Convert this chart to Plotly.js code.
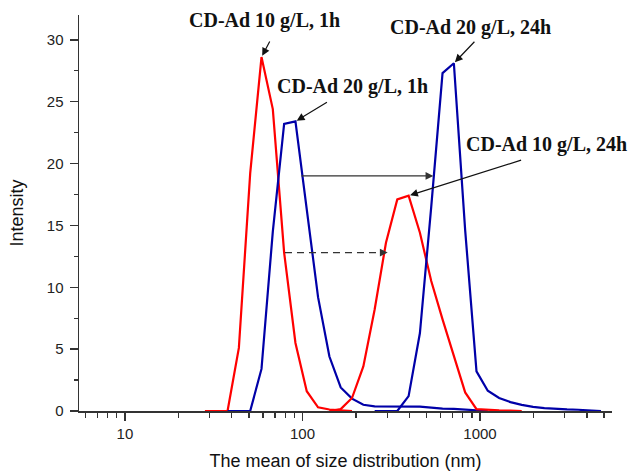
<!DOCTYPE html>
<html>
<head>
<meta charset="utf-8">
<script src="https://cdn.plot.ly/plotly-3.0.1.min.js"></script>
<style>html,body{margin:0;padding:0;background:#fff}#chart{width:629px;height:472px}</style>
</head>
<body>
<div id="chart"></div>
<script>
// ---- data (size bins in nm, intensity in %) ----
const red1Sizes = [28.21, 32.67, 37.84, 43.82, 50.75, 58.77, 68.06, 78.82, 91.28, 105.7, 122.4, 141.8, 164.2, 190.1];
const red1Int   = [0, 0, 0, 5.1, 19.2, 28.6, 24.4, 12.8, 5.5, 1.6, 0.3, 0.12, 0.08, 0];

const blue1Sizes = [37.84, 43.82, 50.75, 58.77, 68.06, 78.82, 91.28, 105.7, 122.4, 141.8, 164.2, 190.1, 220.2, 255.0, 295.3, 342.0, 396.1, 458.7, 531.2, 615.1, 712.4, 825.0, 955.4, 1106];
const blue1Int   = [0, 0, 0, 3.4, 14.5, 23.2, 23.4, 16.3, 9.2, 4.4, 1.9, 1.0, 0.5, 0.38, 0.38, 0.38, 0.37, 0.36, 0.28, 0.19, 0.17, 0.1, 0.04, 0];

const red2Sizes = [141.8, 164.2, 190.1, 220.2, 255.0, 295.3, 342.0, 396.1, 458.7, 531.2, 615.1, 712.4, 825.0, 955.4, 1106, 1281, 1484, 1718];
const red2Int   = [0, 0.15, 1.05, 3.6, 8.2, 13.6, 17.1, 17.4, 14.4, 10.5, 7.4, 4.4, 1.5, 0.15, 0.08, 0.05, 0.03, 0];

const blue2Sizes = [255.0, 295.3, 342.0, 396.1, 458.7, 531.2, 615.1, 712.4, 825.0, 955.4, 1106, 1281, 1484, 1718, 1990, 2305, 2669, 3091, 3580, 4145, 4801];
const blue2Int   = [0, 0, 0, 1.2, 6.3, 16.5, 27.3, 28.1, 14.6, 3.2, 1.64, 1.05, 0.72, 0.5, 0.33, 0.24, 0.16, 0.13, 0.1, 0.06, 0];

const seriesNames = ["CD-Ad 10 g/L, 1h", "CD-Ad 20 g/L, 1h", "CD-Ad 10 g/L, 24h", "CD-Ad 20 g/L, 24h"];

const xTickVals = [10, 100, 1000];
const xTickText = ["10", "100", "1000"];
const xMinorVals = [6, 7, 8, 9, 20, 30, 40, 50, 60, 70, 80, 90, 200, 300, 400, 500, 600, 700, 800, 900, 2000, 3000, 4000, 5000];
const yTickVals = [0, 5, 10, 15, 20, 25, 30];

// shift arrows between peaks (nm from -> nm to, at intensity level)
const solidShift  = {from: 96.8, to: 546, level: 19.0};
const dashedShift = {from: 79.7, to: 302, level: 12.8};

// ---- layout constants ----
const M = {l: 79, r: 17, t: 15, b: 61};
const W = 629, H = 472;
const PW = W - M.l - M.r, PH = H - M.t - M.b;
const XR = [Math.log10(5.51), Math.log10(5540)];
const px2paperX = px => (px - M.l) / PW;
const px2paperY = py => (H - M.b - py) / PH;
const nm2paperX = v => (Math.log10(v) - XR[0]) / (XR[1] - XR[0]);

const RED = "#ff0000", BLUE = "#0000a8", INK = "#111111", AXIS = "#333333";

function peak(xs, ys) {
  let k = 0; ys.forEach((v, i) => { if (v > ys[k]) k = i; });
  return {x: xs[k], y: ys[k]};
}

const traces = [
  {x: red1Sizes, y: red1Int, name: seriesNames[0], color: RED},
  {x: blue1Sizes, y: blue1Int, name: seriesNames[1], color: BLUE},
  {x: red2Sizes, y: red2Int, name: seriesNames[2], color: RED},
  {x: blue2Sizes, y: blue2Int, name: seriesNames[3], color: BLUE}
].map(s => ({
  type: "scatter", mode: "lines", x: s.x, y: s.y, name: s.name,
  line: {color: s.color, width: 2.2}, showlegend: false, hoverinfo: "x+y+name"
}));

const labelFont = {family: "Liberation Serif, Times New Roman, serif", size: 20, color: INK, weight: "bold"};

// label text positions (pixel centres) and arrow tails (pixel offsets from peak)
const labels = [
  {text: seriesNames[0], cx: 264, cy: 21,  pk: peak(red1Sizes, red1Int),   ax: 9,   ay: -17},
  {text: seriesNames[1], cx: 352, cy: 86.5, pk: peak(blue1Sizes, blue1Int), ax: 33,  ay: -20},
  {text: seriesNames[3], cx: 470, cy: 27.5, pk: peak(blue2Sizes, blue2Int), ax: 22,  ay: -23},
  {text: seriesNames[2], cx: 546, cy: 144, pk: peak(red2Sizes, red2Int),   ax: 114, ay: -36}
];

const annotations = [];
labels.forEach(L => {
  annotations.push({
    xref: "paper", yref: "paper", x: px2paperX(L.cx), y: px2paperY(L.cy),
    xanchor: "center", yanchor: "middle", text: L.text, showarrow: false, font: labelFont
  });
  annotations.push({
    xref: "x", yref: "y", x: Math.log10(L.pk.x), y: L.pk.y, text: "",
    showarrow: true, ax: L.ax, ay: L.ay, arrowhead: 2, arrowsize: 1.3, arrowwidth: 1.2,
    arrowcolor: INK, standoff: 1.5
  });
});

// solid shift arrow
annotations.push({
  xref: "x", yref: "y", x: Math.log10(solidShift.to), y: solidShift.level,
  axref: "x", ayref: "y", ax: Math.log10(solidShift.from), ay: solidShift.level,
  text: "", showarrow: true, arrowhead: 2, arrowsize: 1.3, arrowwidth: 1.2, arrowcolor: "#333"
});
// dashed shift arrow head
annotations.push({
  xref: "x", yref: "y", x: Math.log10(dashedShift.to), y: dashedShift.level,
  ax: -9, ay: 0, text: "", showarrow: true, arrowhead: 2, arrowsize: 1.3, arrowwidth: 1.2, arrowcolor: "#333"
});

const shapes = [{
  type: "line", xref: "paper", yref: "y",
  x0: nm2paperX(dashedShift.from), x1: nm2paperX(dashedShift.to) - 8 / PW,
  y0: dashedShift.level, y1: dashedShift.level,
  line: {color: "#333", width: 1.3, dash: "7px,5px"}, layer: "above"
}];

const tickFont = {family: "Liberation Sans, Arial, Helvetica, sans-serif", size: 15, color: "#222"};
const titleFont = {family: "Liberation Sans, Arial, Helvetica, sans-serif", size: 18, color: "#111"};

const layout = {
  width: W, height: H, margin: M,
  paper_bgcolor: "#fff", plot_bgcolor: "#fff",
  xaxis: {
    type: "log", range: XR,
    tickmode: "array", tickvals: xTickVals, ticktext: xTickText,
    ticks: "outside", ticklen: 8, tickwidth: 1.5, tickcolor: AXIS,
    minor: {tickmode: "array", tickvals: xMinorVals, ticks: "outside", ticklen: 5, tickwidth: 1.3, tickcolor: AXIS, showgrid: false},
    showline: true, linecolor: AXIS, linewidth: 1.5, showgrid: false, zeroline: false,
    tickfont: tickFont, layer: "below traces",
    title: {text: "The mean of size distribution (nm)", font: titleFont, standoff: 14}
  },
  yaxis: {
    range: [0, 32], tickmode: "array", tickvals: yTickVals,
    ticks: "outside", ticklen: 8, tickwidth: 1.5, tickcolor: AXIS,
    minor: {dtick: 2.5, ticks: "outside", ticklen: 4, tickwidth: 1.3, tickcolor: AXIS, showgrid: false},
    showline: true, linecolor: AXIS, linewidth: 1.5, showgrid: false, zeroline: false,
    tickfont: tickFont, layer: "below traces", ticklabelstandoff: 3,
    title: {text: "Intensity", font: titleFont, standoff: 18}
  },
  annotations: annotations,
  shapes: shapes,
  showlegend: false
};

Plotly.newPlot("chart", traces, layout, {displayModeBar: false, staticPlot: true});
</script>
</body>
</html>
